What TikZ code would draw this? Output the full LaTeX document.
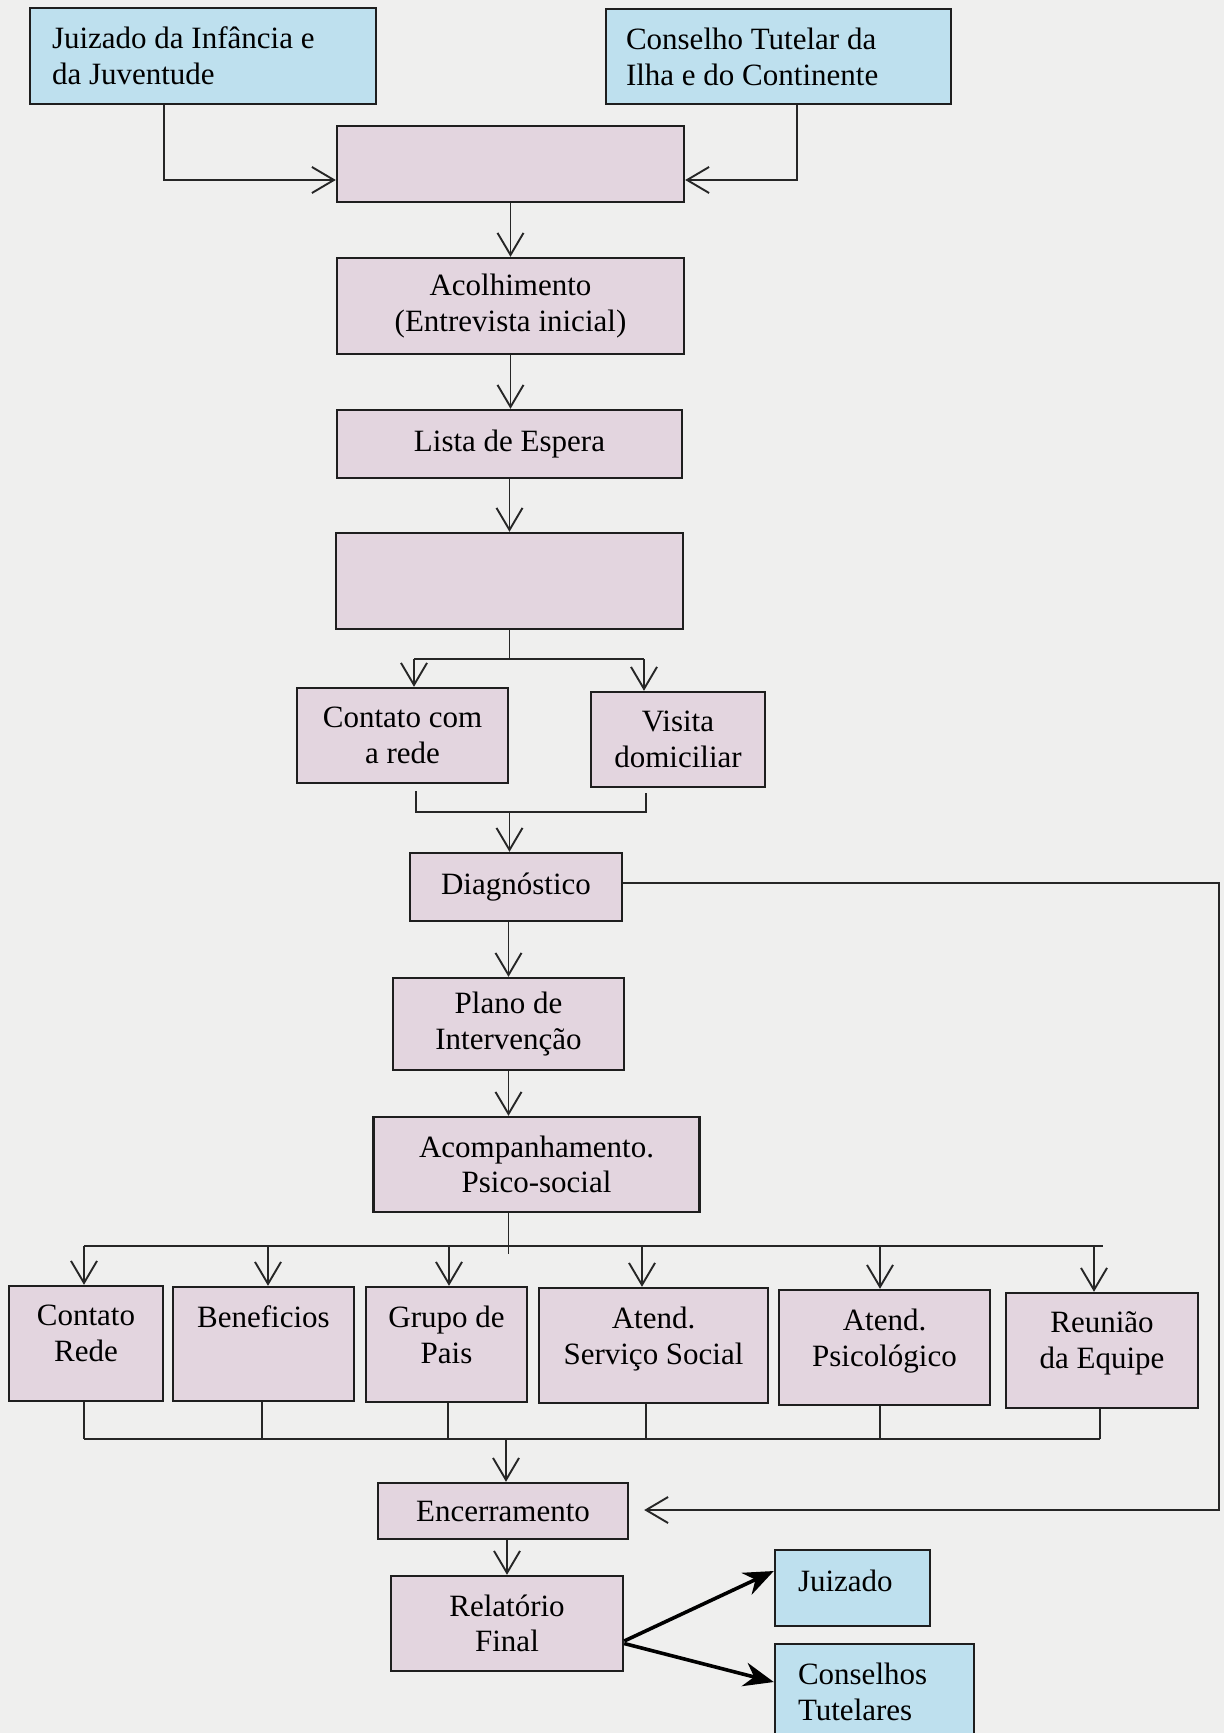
\documentclass[tikz,border=0pt]{standalone}
\usepackage{fontspec}
\setmainfont{Liberation Serif}
\usetikzlibrary{arrows.meta}
\definecolor{bgc}{HTML}{EFEFEE}
\definecolor{pinkfill}{HTML}{E3D5DF}
\definecolor{bluefill}{HTML}{BEE0EE}
\definecolor{boxline}{HTML}{1E1E1E}
\definecolor{lineclr}{HTML}{262626}
\newcommand{\diagfont}{\fontsize{15.5}{17.75}\selectfont}
\newcommand{\mytopbox}[4]{\parbox[c][#2][t]{#1}{\vspace*{#3}#4}}
\tikzset{
  pinkbox/.style={draw=boxline, line width=1.2pt, fill=pinkfill, align=center, inner sep=0pt, font=\diagfont},
  pinktop/.style={draw=boxline, line width=1.2pt, fill=pinkfill, inner sep=0pt, font=\diagfont},
  bluebox/.style={draw=boxline, line width=1.2pt, fill=bluefill, inner ysep=0pt, font=\diagfont},
  conn/.style={line width=0.95pt, draw=lineclr},
  arr/.style={conn, -{Straight Barb[length=11pt,width=13pt]}},
  bigarr/.style={line width=1.8pt, draw=black, -{Stealth[length=15pt,width=12pt]}},
}
\begin{document}
\begin{tikzpicture}[x=0.5pt,y=-0.5pt]
\fill[bgc] (0,0) rectangle (1224,1733);
\useasboundingbox (0,0) rectangle (1224,1733);

% ---- blue source boxes
\node[bluebox, inner xsep=11pt, minimum width=173pt, minimum height=48pt] (jiz) at (203,56)
  {\mytopbox{151pt}{48pt}{9.5pt}{\raggedright Juizado da Infância e\\da Juventude}};
\node[bluebox, inner xsep=10pt, minimum width=172.5pt, minimum height=47.5pt] (ct) at (778.5,56.5)
  {\mytopbox{152.5pt}{47.5pt}{9.5pt}{\raggedright Conselho Tutelar da\\Ilha e do Continente}};

% ---- main column
\node[pinkbox, minimum width=173.5pt, minimum height=38pt] (recv) at (510.5,164) {};
\node[pinkbox, minimum width=173.5pt, minimum height=48pt] (acol) at (510.5,306) {Acolhimento\\(Entrevista inicial)};
\node[pinkbox, minimum width=172.5pt, minimum height=34pt] (lista) at (509.5,444) {Lista de Espera};
\node[pinkbox, minimum width=173.5pt, minimum height=48pt] (triag) at (509.5,581) {};
\node[pinkbox, minimum width=105.5pt, minimum height=47.5pt] (crede) at (402.5,735.5) {Contato com\\a rede};
\node[pinkbox, minimum width=87pt, minimum height=47.5pt] (visita) at (678,739.5) {Visita\\domiciliar};
\node[pinkbox, minimum width=106pt, minimum height=34pt] (diag) at (516,887) {Diagnóstico};
\node[pinkbox, minimum width=115.5pt, minimum height=46pt] (plano) at (508.5,1024) {Plano de\\Intervenção};
\node[pinkbox, minimum width=163pt, minimum height=47.5pt] (acomp) at (536.5,1164.5) {Acompanhamento.\\Psico-social};

% ---- row of activities
\node[pinktop, minimum width=77pt, minimum height=57.5pt] (r1) at (86,1343.5)
  {\mytopbox{77pt}{57.5pt}{9.5pt}{\centering Contato\\Rede}};
\node[pinktop, minimum width=90.5pt, minimum height=57pt] (r2) at (263.5,1344)
  {\mytopbox{90.5pt}{57pt}{9.5pt}{\centering Beneficios}};
\node[pinktop, minimum width=80.5pt, minimum height=57.5pt] (r3) at (446.5,1344.5)
  {\mytopbox{80.5pt}{57.5pt}{9.5pt}{\centering Grupo de\\Pais}};
\node[pinktop, minimum width=114.5pt, minimum height=57.5pt] (r4) at (653.5,1345.5)
  {\mytopbox{114.5pt}{57.5pt}{9.5pt}{\centering Atend.\\Serviço Social}};
\node[pinktop, minimum width=105.5pt, minimum height=57.5pt] (r5) at (884.5,1347.5)
  {\mytopbox{105.5pt}{57.5pt}{9.5pt}{\centering Atend.\\Psicológico}};
\node[pinktop, minimum width=96pt, minimum height=57.5pt] (r6) at (1102,1350.5)
  {\mytopbox{96pt}{57.5pt}{9.5pt}{\centering Reunião\\da Equipe}};

% ---- closing
\node[pinkbox, minimum width=125pt, minimum height=28pt] (enc) at (503,1511) {Encerramento};
\node[pinkbox, minimum width=116pt, minimum height=47.5pt] (rel) at (507,1623.5) {Relatório\\Final};
\node[bluebox, inner xsep=11.5pt, minimum width=77.5pt, minimum height=38pt] (jz2) at (852.5,1588)
  {\mytopbox{54.5pt}{38pt}{10pt}{\raggedright Juizado}};
\node[bluebox, inner xsep=11.5pt, minimum width=99.5pt, minimum height=60pt] (cons) at (874.5,1704)
  {\mytopbox{76.5pt}{60pt}{9.5pt}{\raggedright Conselhos\\Tutelares}};

% ---- connectors: top
\coordinate (jx) at ([xshift=67.5pt]jiz.south west);
\coordinate (cx) at ([xshift=96pt]ct.south west);
\coordinate (rl) at ([yshift=-8pt]recv.west);
\coordinate (rr) at ([yshift=-8pt]recv.east);
\draw[arr] (jx) |- (rl);
\draw[arr] (cx) |- (rr);
\draw[arr] (recv.south) -- (recv.south |- acol.north);
\draw[arr] (acol.south) -- (acol.south |- lista.north);
\draw[arr] (lista.south) -- (lista.south |- triag.north);

% split to contact / visit
\path (triag.south) ++(0,29) coordinate (s1);
\draw[conn] (triag.south) -- (s1);
\coordinate (ca) at ([xshift=5.75pt]crede.north);
\coordinate (va) at ([xshift=-17pt]visita.north);
\draw[conn] (ca |- s1) -- (va |- s1);
\draw[arr] (ca |- s1) -- (ca);
\draw[arr] (va |- s1) -- (va);

% merge to diagnosis
\coordinate (m1) at ([xshift=6.75pt,yshift=-3.5pt]crede.south);
\coordinate (m2) at ([xshift=-16pt,yshift=-2.5pt]visita.south);
\path (m1) ++(0,21) coordinate (m3);
\draw[conn] (m1) -- (m3) -- (m3 -| m2) -- (m2);
\draw[arr] (m3 -| triag.south) -- (triag.south |- diag.north);

\draw[arr] (plano.north |- diag.south) -- (plano.north);
\draw[arr] (plano.south) -- (plano.south |- acomp.north);

% return line diagnosis -> encerramento
\coordinate (d1) at ([yshift=2pt]diag.east);
\coordinate (e2) at ([xshift=7.5pt,yshift=0.5pt]enc.east);
\draw[arr] (d1) -- ++(596,0) |- (e2);

% split to activities
\coordinate (hb) at ([xshift=-14pt,yshift=-16.5pt]acomp.south);
\draw[conn] (acomp.south -| hb) -- ([yshift=-4pt]hb);
\coordinate (a1) at ([xshift=-1pt]r1.north);
\coordinate (a2) at ([xshift=2.25pt]r2.north);
\coordinate (a3) at ([xshift=1.25pt]r3.north);
\coordinate (a4) at ([xshift=-5.75pt]r4.north);
\coordinate (a5) at ([xshift=-2.25pt]r5.north);
\coordinate (a6) at ([xshift=-4pt]r6.north);
\coordinate (hend) at ([xshift=4.5pt]a6);
\draw[conn] (a1 |- hb) -- (hend |- hb);
\foreach \k in {a1,a2,a3,a4,a5,a6}{\draw[arr] (\k |- hb) -- (\k);}

% merge from activities
\coordinate (hl) at ([yshift=21.5pt]enc.north);
\coordinate (q1) at ([xshift=-1pt]r1.south);
\coordinate (q2) at ([xshift=-0.75pt]r2.south);
\coordinate (q3) at ([xshift=0.75pt]r3.south);
\coordinate (q4) at ([xshift=-3.75pt]r4.south);
\coordinate (q5) at ([xshift=-2.25pt]r5.south);
\coordinate (q6) at ([xshift=-1pt]r6.south);
\foreach \k in {q1,q2,q3,q4,q5,q6}{\draw[conn] (\k) -- (\k |- hl);}
\draw[conn] (q1 |- hl) -- (q6 |- hl);
\coordinate (e1) at ([xshift=1.5pt]enc.north);
\draw[arr] (e1 |- hl) -- (e1);

\draw[arr] (rel.north |- enc.south) -- (rel.north);

% final report outputs
\coordinate (rs1) at ([yshift=-8.75pt]rel.east);
\coordinate (rs2) at ([yshift=-10pt]rel.east);
\coordinate (tj) at ([yshift=8.5pt]jz2.west);
\coordinate (tc) at ([yshift=11pt]cons.west);
\draw[bigarr] (rs1) -- (tj);
\draw[bigarr] (rs2) -- (tc);
\end{tikzpicture}
\end{document}
